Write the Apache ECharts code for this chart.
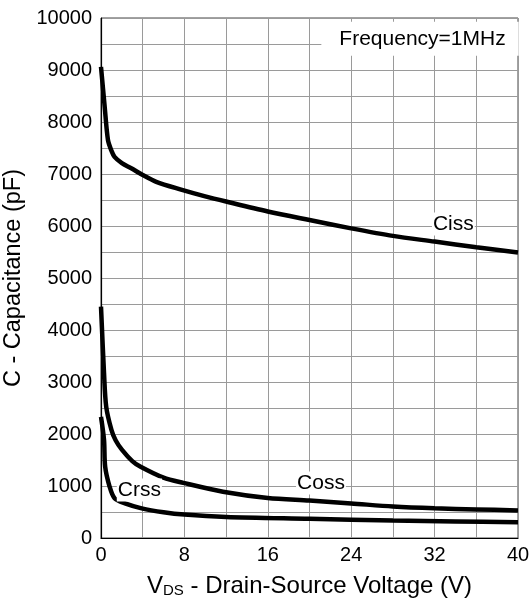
<!DOCTYPE html>
<html>
<head>
<meta charset="utf-8">
<script src="https://cdn.jsdelivr.net/npm/echarts@6/dist/echarts.min.js"></script>
<style>
html,body{margin:0;padding:0;background:#fff;}
#chart{width:531px;height:605px;}
</style>
</head>
<body>
<div id="chart"></div>
<script>
// ---- data ----
const cissV = [0, 0.35, 0.67, 1.0, 1.3, 2.0, 2.9, 4.0, 5.3, 7.6, 10, 12, 16, 20, 24, 28, 32, 36, 40];
const cissC = [9060, 8300, 7650, 7450, 7330, 7210, 7110, 6980, 6850, 6705, 6570, 6470, 6280, 6115, 5955, 5810, 5700, 5590, 5490];

const cossV = [0, 0.29, 0.5, 1.0, 1.4, 2.0, 3.0, 3.8, 6.0, 7.9, 11.7, 16, 20, 24, 28, 32, 36, 40];
const cossC = [4450, 3170, 2525, 2080, 1880, 1700, 1480, 1370, 1160, 1060, 890, 770, 720, 665, 605, 570, 550, 530];

const crssV = [0, 0.29, 0.4, 0.83, 1.3, 2.3, 3.9, 6.0, 8.0, 12, 20, 28, 34, 40];
const crssC = [2330, 1885, 1370, 985, 765, 665, 570, 495, 450, 405, 370, 335, 318, 302];

const xTickLabels = ['0', '8', '16', '24', '32', '40'];
const yTickLabels = ['0', '1000', '2000', '3000', '4000', '5000', '6000', '7000', '8000', '9000', '10000'];

const labelTexts = ['Ciss', 'Coss', 'Crss', 'Frequency=1MHz'];
const labelAnchors = [[33.8, 6040], [21.1, 1060], [3.68, 925], [30.6, 9600]];

const FONT = 'Arial, "Liberation Sans", sans-serif';

function pairs(xs, ys) { return xs.map((x, i) => [x, ys[i]]); }

function mark(i, padding) {
  return {
    coord: labelAnchors[i],
    symbol: 'circle',
    symbolSize: 0,
    label: {
      show: true,
      position: 'inside',
      formatter: labelTexts[i],
      color: '#000',
      fontFamily: FONT,
      fontSize: 21,
      backgroundColor: '#fff',
      padding: padding || [1, 1, 1, 1]
    }
  };
}

function curve(name, data, marks) {
  return {
    name: name,
    type: 'line',
    data: data,
    smooth: 0.3,
    showSymbol: false,
    symbol: 'none',
    lineStyle: { color: '#000', width: 4.5 },
    markPoint: { silent: true, animation: false, data: marks }
  };
}

const chart = echarts.init(document.getElementById('chart'), null, { renderer: 'canvas' });
chart.setOption({
  animation: false,
  backgroundColor: '#fff',
  grid: { left: 101, right: 13, top: 18, bottom: 67, show: true, borderColor: '#444', borderWidth: 1, containLabel: false, outerBoundsMode: 'none' },
  xAxis: {
    type: 'value', min: 0, max: 40, interval: 4,
    axisLine: { show: true, lineStyle: { color: '#000', width: 1.2 } },
    axisTick: { show: false },
    splitLine: { show: true, lineStyle: { color: '#9a9a9a', width: 1 } },
    axisLabel: {
      color: '#000', fontFamily: FONT, fontSize: 20, margin: 7,
      formatter: v => xTickLabels.includes(String(v)) ? String(v) : ''
    },
    name: '{v|V}{s|DS}{t| - Drain-Source Voltage (V)}',
    nameLocation: 'middle', nameGap: 36,
    nameTextStyle: {
      rich: {
        v: { fontFamily: FONT, fontSize: 24, color: '#000', verticalAlign: 'bottom' },
        s: { fontFamily: FONT, fontSize: 15, color: '#000', verticalAlign: 'bottom' },
        t: { fontFamily: FONT, fontSize: 24, color: '#000', verticalAlign: 'bottom' }
      }
    }
  },
  yAxis: {
    type: 'value', min: 0, max: 10000, interval: 500,
    axisLine: { show: true, lineStyle: { color: '#000', width: 1.2 } },
    axisTick: { show: false },
    splitLine: { show: true, lineStyle: { color: '#9a9a9a', width: 1 } },
    axisLabel: {
      color: '#000', fontFamily: FONT, fontSize: 20, margin: 9,
      formatter: v => yTickLabels.includes(String(v)) ? String(v) : ''
    },
    name: 'C - Capacitance (pF)',
    nameLocation: 'middle', nameGap: 71, nameRotate: 90,
    nameTextStyle: { color: '#000', fontFamily: FONT, fontSize: 23.5 }
  },
  series: [
    curve('Ciss', pairs(cissV, cissC), [mark(0), mark(3, [9, 13, 4, 18])]),
    curve('Coss', pairs(cossV, cossC), [mark(1)]),
    curve('Crss', pairs(crssV, crssC), [mark(2)])
  ]
});
</script>
</body>
</html>
